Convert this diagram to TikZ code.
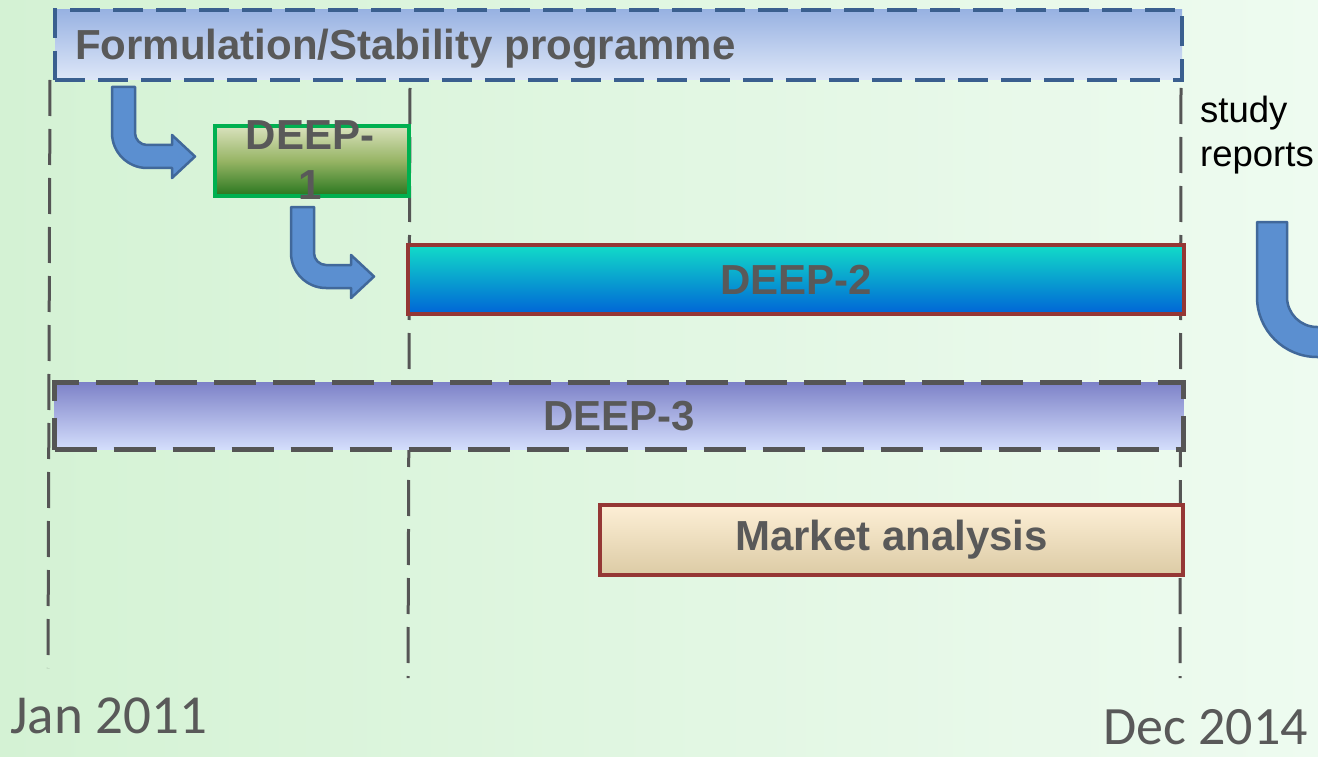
\documentclass[tikz,border=0pt]{standalone}
\usepackage{fontspec}
\setmainfont{Liberation Sans}
\newfontfamily\calib{Carlito}
\definecolor{txtgray}{RGB}{89,89,89}
\definecolor{lngray}{RGB}{85,85,85}
\definecolor{darkred}{RGB}{149,55,53}
\definecolor{dblue}{RGB}{58,95,143}
\definecolor{arrfill}{RGB}{91,143,208}
\definecolor{arrdraw}{RGB}{65,104,154}
\definecolor{bgleft}{RGB}{212,242,212}
\definecolor{bgright}{RGB}{238,251,240}
\tikzset{
  boxlabel/.style={font=\fontsize{42}{50}\selectfont\bfseries, text=txtgray},
  vline/.style={draw=lngray, line width=3pt, dash pattern=on 36pt off 13pt},
  bararrow/.style={fill=arrfill, draw=arrdraw, line width=2.5pt, line join=round},
  taskbox/.style={inner sep=0pt, minimum height=70pt},
}
\begin{document}
\begin{tikzpicture}[x=1pt,y=-1pt]
\useasboundingbox (0,0) rectangle (1318,757);
\shade[left color=bgleft, right color=bgright] (0,0) rectangle (1318,757);

% vertical dashed time lines
\coordinate (l1t) at (50,80);  \coordinate (l1b) at (48,668);
\coordinate (l2t) at (410,88); \coordinate (l2b) at (408,678);
\coordinate (l3t) at (1181,88); \coordinate (l3b) at (1180,678);
\draw[vline] (l1t) -- (l1b);
\draw[vline] (l2t) -- (l2b);
\draw[vline] (l3t) -- (l3b);

% Formulation box
\node[taskbox, anchor=north west, minimum width=1127pt, top color={rgb,255:red,152;green,178;blue,226}, bottom color={rgb,255:red,222;green,231;blue,248},
  draw=dblue, line width=4pt, dash pattern=on 30pt off 13pt]
  (form) at (53,8) {};
\node[boxlabel, anchor=base west, inner sep=0pt] (forml) at (75,60) {Formulation/Stability programme};

% DEEP-1
\node[taskbox, anchor=north west, minimum width=194pt, top color={rgb,255:red,218;green,226;blue,190}, bottom color={rgb,255:red,40;green,118;blue,30},
  middle color={rgb,255:red,150;green,180;blue,100}, draw={rgb,255:red,0;green,176;blue,80}, line width=4pt]
  (d1) at (213,124) {};
\node[boxlabel, anchor=base] (d1a) at (310,150) {DEEP-};
\node[boxlabel, anchor=base] (d1b) at (310,200) {1};

% DEEP-2
\node[taskbox, anchor=north west, minimum width=776pt, minimum height=69pt, boxlabel,
  top color={rgb,255:red,18;green,220;blue,200}, middle color={rgb,255:red,16;green,190;blue,228}, bottom color={rgb,255:red,0;green,100;blue,215},
  draw=darkred, line width=4pt]
  (d2) at (406,243) {DEEP-2};

% DEEP-3
\node[taskbox, anchor=north west, minimum width=1129pt, minimum height=67pt, boxlabel,
  top color={rgb,255:red,125;green,130;blue,200}, middle color={rgb,255:red,200;green,208;blue,245}, bottom color={rgb,255:red,212;green,222;blue,252},
  draw=lngray, line width=5pt, dash pattern=on 42pt off 17pt]
  (d3) at (52,380) {DEEP-3};

% Market analysis
\node[taskbox, anchor=north west, minimum width=583pt, boxlabel,
  top color={rgb,255:red,253;green,239;blue,214}, middle color={rgb,255:red,246;green,232;blue,206}, bottom color={rgb,255:red,220;green,203;blue,165},
  draw=darkred, line width=4pt]
  (ma) at (598,503) {Market analysis};

% bent arrows
\foreach \ox/\oy in {112/87, 291/207}{
  \begin{scope}[shift={(\ox,\oy)}]
  \draw[bararrow] (0,0) -- (0,46) .. controls (0,65.3) and (15.7,81) .. (35,81) -- (60,81) -- (60,91) -- (83,69.5) -- (60,48) -- (60,58) -- (35,58) .. controls (28.4,58) and (23,52.6) .. (23,46) -- (23,0) -- cycle;
  \end{scope}
}

% U arrow at right, cut off
\begin{scope}
\clip (0,0) rectangle (1318,757);
\draw[bararrow] (1257,222) -- (1257,297) .. controls (1257,330.1) and (1283.9,357) .. (1317,357) -- (1345,357) -- (1345,327) -- (1317,327) .. controls (1300.4,327) and (1287,313.6) .. (1287,297) -- (1287,222) -- cycle;
\end{scope}

% texts
\node[anchor=base west, inner sep=0pt, font=\fontsize{36.5}{44}\selectfont] (st) at (1200,123) {study};
\node[anchor=base west, inner sep=0pt, font=\fontsize{36.5}{44}\selectfont] (rp) at (1200,167) {reports};
\node[anchor=base west, inner sep=0pt, font=\calib\fontsize{55}{60}\selectfont, text=txtgray] (jan) at (10,733) {Jan 2011};
\node[anchor=base east, inner sep=0pt, font=\calib\fontsize{54}{60}\selectfont, text=txtgray] (dec) at (1308,744) {Dec 2014};
\end{tikzpicture}
\end{document}
